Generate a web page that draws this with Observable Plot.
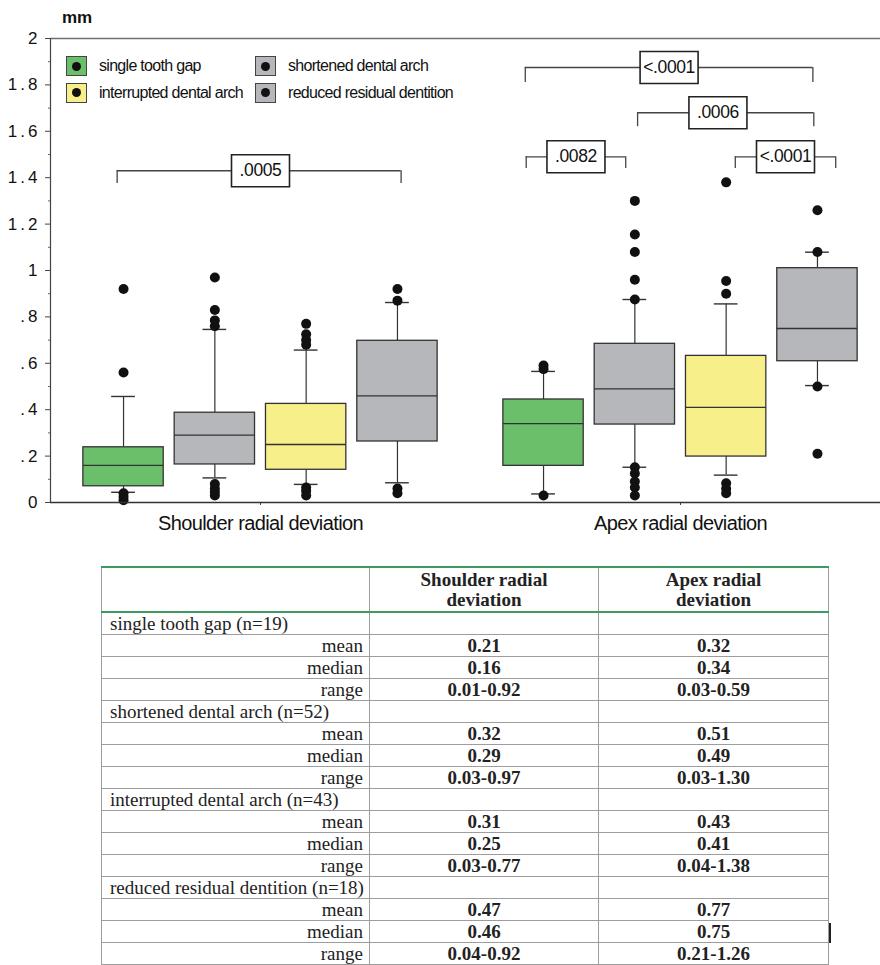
<!DOCTYPE html>
<html>
<head>
<meta charset="utf-8">
<script src="https://cdn.jsdelivr.net/npm/d3@7"></script>
<script src="https://cdn.jsdelivr.net/npm/@observablehq/plot@0.6"></script>
<style>
  body { margin: 0; background: #fff; font-family: "Liberation Sans", Arial, sans-serif; }
  #page { position: relative; width: 880px; height: 965px; overflow: hidden; }
  #chart { position: absolute; left: 0; top: 0; width: 880px; height: 545px; }
  #chart [aria-label="y-axis tick label"] text { letter-spacing: 3px; }
  #chart [aria-label="fx-axis tick label"] text { letter-spacing: -0.6px; }
  #chart g[aria-label="text"] text { letter-spacing: -0.4px; }
  #mm { position: absolute; left: 62px; top: 9px; font-weight: bold; font-size: 17px; line-height: 17px; color: #111; }
  #legend { position: absolute; left: 66px; top: 53px; display: grid; grid-template-columns: 189px auto; grid-auto-rows: 26.5px; }
  .item { display: flex; align-items: center; font-size: 16px; letter-spacing: -0.7px; color: #111; }
  .sw { width: 21px; height: 20px; box-sizing: border-box; border: 1px solid #444; margin-right: 12px; display: flex; align-items: center; justify-content: center; }
  .sw i { width: 9px; height: 9px; border-radius: 50%; background: #111; display: block; }
  table { position: absolute; left: 101px; top: 566px; width: 727px; border-collapse: collapse; table-layout: fixed;
          font-family: "Liberation Serif", "Times New Roman", serif; font-size: 19px; color: #222; }
  td, th { border: 1px solid #9d9d9d; height: 21px; padding: 0 6px; line-height: 20px; white-space: nowrap; overflow: hidden; }
  th { height: 43px; border-top: 2.5px solid #3f9a60; border-bottom: 2.5px solid #3f9a60; font-weight: bold; text-align: center; line-height: 20px; }
  td.grp { text-align: left; padding-left: 8px; }
  td.stat { text-align: right; padding-right: 6px; }
  td.val { text-align: center; font-weight: bold; }
  #bar { position: absolute; left: 829px; top: 923px; width: 2px; height: 20px; background: #222; }
</style>
</head>
<body>
<div id="page">
  <div id="chart"></div>
  <div id="mm">mm</div>
  <div id="legend"></div>
  <table id="stats"></table>
  <div id="bar"></div>
</div>
<script>
// ---------- data ----------
const measures = ["Shoulder radial deviation", "Apex radial deviation"];
const groups = ["single tooth gap", "shortened dental arch", "interrupted dental arch", "reduced residual dentition"];
const groupColors = ["#6bbf6b", "#b5b7ba", "#f7ef8a", "#b5b7ba"];
const groupN = [19, 52, 43, 18];

// box-plot summaries (mm)
const shoulderLowerWhisker = [0.044, 0.106, 0.078, 0.085];
const shoulderQ1 = [0.070, 0.164, 0.141, 0.263];
const shoulderMedian = [0.16, 0.29, 0.25, 0.46];
const shoulderQ3 = [0.238, 0.387, 0.425, 0.697];
const shoulderUpperWhisker = [0.457, 0.746, 0.657, 0.862];
const shoulderOutliers = [
  [0.92, 0.56, 0.04, 0.025, 0.01],
  [0.97, 0.83, 0.785, 0.76, 0.08, 0.06, 0.045, 0.03],
  [0.77, 0.725, 0.70, 0.68, 0.065, 0.05, 0.03],
  [0.92, 0.87, 0.06, 0.04]
];

const apexLowerWhisker = [0.037, 0.152, 0.118, 0.504];
const apexQ1 = [0.158, 0.336, 0.198, 0.609];
const apexMedian = [0.34, 0.49, 0.41, 0.75];
const apexQ3 = [0.444, 0.684, 0.632, 1.01];
const apexUpperWhisker = [0.565, 0.875, 0.856, 1.079];
const apexOutliers = [
  [0.59, 0.575, 0.03],
  [1.30, 1.155, 1.08, 0.96, 0.875, 0.152, 0.125, 0.09, 0.065, 0.03],
  [1.38, 0.955, 0.90, 0.083, 0.059, 0.04],
  [1.26, 1.08, 0.50, 0.21]
];

// significance brackets (positions in group-slot units, heights in mm)
const bracketMeasure = [measures[0], measures[1], measures[1], measures[1], measures[1]];
const bracketFrom = [-0.07, -0.2, 1.03, -0.19, 2.1];
const bracketTo = [3.04, 2.95, 2.96, 0.9, 3.2];
const bracketY = [1.43, 1.875, 1.68, 1.49, 1.49];
const bracketEnd = [1.375, 1.81, 1.62, 1.44, 1.44];
const bracketLabelX = [1.5, 1.375, 1.91, 0.355, 2.65];
const bracketLabel = [".0005", "<.0001", ".0006", ".0082", "<.0001"];

// table values
const shoulderMean = [0.21, 0.32, 0.31, 0.47];
const apexMean = [0.32, 0.51, 0.43, 0.77];
const shoulderRange = ["0.01-0.92", "0.03-0.97", "0.03-0.77", "0.04-0.92"];
const apexRange = ["0.03-0.59", "0.03-1.30", "0.04-1.38", "0.21-1.26"];

const yTicks = [0, 0.2, 0.4, 0.6, 0.8, 1, 1.2, 1.4, 1.6, 1.8, 2];
const yMinorTicks = [0.1, 0.3, 0.5, 0.7, 0.9, 1.1, 1.3, 1.5, 1.7, 1.9];
const xDomain = [-0.8, 3.8];
const yDomain = [0, 2];

// ---------- build tables for Plot ----------
const stats = [
  [shoulderLowerWhisker, shoulderQ1, shoulderMedian, shoulderQ3, shoulderUpperWhisker, shoulderOutliers],
  [apexLowerWhisker, apexQ1, apexMedian, apexQ3, apexUpperWhisker, apexOutliers]
];
const boxes = [];
const outliers = [];
measures.forEach((m, mi) => {
  const [lo, q1, med, q3, hi, out] = stats[mi];
  groups.forEach((g, i) => {
    boxes.push({measure: m, group: g, slot: i, lo: lo[i], q1: q1[i], median: med[i], q3: q3[i], hi: hi[i], color: groupColors[i]});
    out[i].forEach(v => outliers.push({measure: m, slot: i, value: v}));
  });
});
const brackets = bracketLabel.map((label, k) => ({
  measure: bracketMeasure[k], x1: bracketFrom[k], x2: bracketTo[k], y: bracketY[k], yEnd: bracketEnd[k], lx: bracketLabelX[k], label
}));

const BH = 0.44;   // half box width (slot units)
const CAP = 0.13;  // half whisker-cap width
const labelBox = {draw(ctx) { ctx.rect(-29, -16, 58, 32); }};
const ink = "#333";

const chart = Plot.plot({
  width: 880,
  height: 545,
  marginLeft: 50,
  marginRight: -10,
  marginTop: 38,
  marginBottom: 43,
  style: {fontFamily: "'Liberation Sans', Arial, sans-serif", background: "transparent", overflow: "visible", color: "#111"},
  fx: {domain: measures, padding: 0, label: null},
  x: {domain: xDomain, axis: null},
  y: {domain: yDomain, label: null},
  marks: [
    // frame lines
    Plot.ruleY([yDomain[1]], {stroke: "#6f6f6f", strokeWidth: 1.5}),
    Plot.ruleX([{measure: measures[0], x: xDomain[0]}], {fx: "measure", x: "x", stroke: "#444", strokeWidth: 1.2}),
    // whiskers
    Plot.ruleX(boxes, {fx: "measure", x: "slot", y1: "q3", y2: "hi", stroke: ink, strokeWidth: 1.2}),
    Plot.ruleX(boxes, {fx: "measure", x: "slot", y1: "lo", y2: "q1", stroke: ink, strokeWidth: 1.2}),
    Plot.ruleY(boxes, {fx: "measure", x1: d => d.slot - CAP, x2: d => d.slot + CAP, y: "hi", stroke: ink, strokeWidth: 1.4}),
    Plot.ruleY(boxes, {fx: "measure", x1: d => d.slot - CAP, x2: d => d.slot + CAP, y: "lo", stroke: ink, strokeWidth: 1.4}),
    // boxes
    Plot.rect(boxes, {fx: "measure", x1: d => d.slot - BH, x2: d => d.slot + BH, y1: "q1", y2: "q3", fill: "color", stroke: ink, strokeWidth: 1.3}),
    Plot.ruleY(boxes, {fx: "measure", x1: d => d.slot - BH, x2: d => d.slot + BH, y: "median", stroke: ink, strokeWidth: 1.3}),
    // outliers
    Plot.dot(outliers, {fx: "measure", x: "slot", y: "value", r: 5, fill: "#111", stroke: "none"}),
    // significance brackets
    Plot.ruleY(brackets, {fx: "measure", x1: "x1", x2: "x2", y: "y", stroke: "#444", strokeWidth: 1.3}),
    Plot.ruleX(brackets, {fx: "measure", x: "x1", y1: "y", y2: "yEnd", stroke: "#444", strokeWidth: 1.3}),
    Plot.ruleX(brackets, {fx: "measure", x: "x2", y1: "y", y2: "yEnd", stroke: "#444", strokeWidth: 1.3}),
    Plot.dot(brackets, {fx: "measure", x: "lx", y: "y", symbol: labelBox, r: 1, fill: "white", stroke: "#222", strokeWidth: 1.6}),
    Plot.text(brackets, {fx: "measure", x: "lx", y: "y", text: "label", fontSize: 17.5, fill: "#111"}),
    // axes
    Plot.axisY({ticks: yTicks, tickSize: 5, tickPadding: 5, fontSize: 17, stroke: "#444",
      tickFormat: d => d === 0 ? "0" : String(d).replace(/^0(?=\.)/, "")}),
    Plot.axisY({ticks: yMinorTicks, tickSize: 2, tickFormat: () => "", stroke: "#666"}),
    Plot.axisFx({anchor: "bottom", tickSize: 3, tickPadding: 10, fontSize: 20, label: null, stroke: "#444"}),
    Plot.ruleY([yDomain[0]], {stroke: "#333", strokeWidth: 1.6})
  ]
});
document.getElementById("chart").append(chart);

// ---------- legend ----------
const legend = document.getElementById("legend");
groups.forEach((g, i) => {
  const item = document.createElement("div");
  item.className = "item";
  item.innerHTML = `<span class="sw" style="background:${groupColors[i]}"><i></i></span>${g}`;
  legend.append(item);
});

// ---------- statistics table ----------
const fmt = v => v.toFixed(2);
let html = `<colgroup><col style="width:268px"><col style="width:229px"><col style="width:230px"></colgroup>`;
html += `<tr><th></th><th>Shoulder radial<br>deviation</th><th>Apex radial<br>deviation</th></tr>`;
groups.forEach((g, i) => {
  html += `<tr><td class="grp">${g} (n=${groupN[i]})</td><td></td><td></td></tr>`;
  html += `<tr><td class="stat">mean</td><td class="val">${fmt(shoulderMean[i])}</td><td class="val">${fmt(apexMean[i])}</td></tr>`;
  html += `<tr><td class="stat">median</td><td class="val">${fmt(shoulderMedian[i])}</td><td class="val">${fmt(apexMedian[i])}</td></tr>`;
  html += `<tr><td class="stat">range</td><td class="val">${shoulderRange[i]}</td><td class="val">${apexRange[i]}</td></tr>`;
});
document.getElementById("stats").innerHTML = html;
</script>
</body>
</html>
